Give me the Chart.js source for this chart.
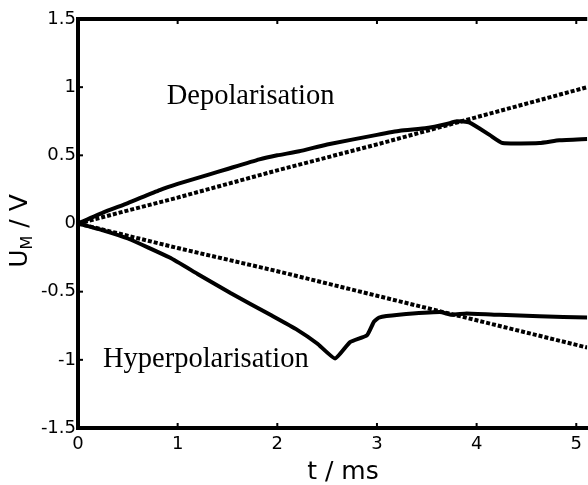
<!DOCTYPE html>
<html>
<head>
<meta charset="utf-8">
<script src="https://cdn.jsdelivr.net/npm/chart.js@4.4.0/dist/chart.umd.min.js"></script>
<style>
  body { margin: 0; background: #fff; }
  #wrap { width: 588px; height: 485px; position: relative; }
</style>
</head>
<body>
<div id="wrap"><canvas id="umChart"></canvas></div>
<script>
// measured membrane voltage, depolarisation branch (t in ms, U in V)
const depolT = [0, 0.25, 0.5, 0.82, 1, 1.32, 1.5, 1.82, 2, 2.22, 2.5, 3, 3.23, 3.5, 3.7, 3.8, 3.93, 4.13, 4.26, 4.63, 4.83, 5.11]
const depolU = [0, 0.08, 0.15, 0.245, 0.29, 0.36, 0.40, 0.47, 0.50, 0.53, 0.58, 0.65, 0.68, 0.70, 0.73, 0.75, 0.74, 0.65, 0.59, 0.59, 0.61, 0.62]
// linear reference (dotted), depolarisation
const depolLinT = [0, 1, 2, 3, 4, 5.11]
const depolLinU = [0, 0.19, 0.39, 0.58, 0.78, 1.0]
// hyperpolarisation branch
const hyperT = [0, 0.25, 0.5, 0.92, 1.2, 1.53, 1.93, 2.2, 2.4, 2.58, 2.73, 2.9, 2.97, 3.02, 3.22, 3.63, 3.75, 3.9, 4.23, 4.63, 5.11]
const hyperU = [0, -0.05, -0.11, -0.25, -0.37, -0.51, -0.67, -0.78, -0.88, -0.99, -0.87, -0.82, -0.72, -0.69, -0.67, -0.65, -0.67, -0.66, -0.67, -0.68, -0.69]
const hyperLinT = [0, 1, 2, 3, 4, 5.11]
const hyperLinU = [0, -0.18, -0.35, -0.53, -0.71, -0.91]

const xTickLabels = ['0', '1', '2', '3', '4', '5']
const yTickLabels = ['-1.5', '-1', '-0.5', '0', '0.5', '1', '1.5']

const labels = [
    {text: 'Depolarisation', t: 0.89, u: 0.88},
    {text: 'Hyperpolarisation', t: 0.25, u: -1.05}
]

function pts(ts, us) {
    return ts.map((t, i) => ({x: t, y: us[i]}))
}

Chart.defaults.font.family = '"DejaVu Sans", sans-serif'
Chart.defaults.color = '#000'

// top frame line, inward tick marks, text labels, axis titles
const framePlugin = {
    id: 'frame',
    afterDraw(chart) {
        const {ctx, chartArea: a, scales: {x, y}} = chart
        ctx.save()
        ctx.strokeStyle = '#000'
        ctx.lineWidth = 4
        ctx.beginPath()
        ctx.moveTo(a.left - 2, a.top)
        ctx.lineTo(a.right, a.top)
        ctx.stroke()

        ctx.lineWidth = 2
        x.ticks.forEach(tk => {
            const px = x.getPixelForValue(tk.value)
            ctx.beginPath()
            ctx.moveTo(px, a.bottom); ctx.lineTo(px, a.bottom - 5)
            ctx.moveTo(px, a.top); ctx.lineTo(px, a.top + 5)
            ctx.stroke()
        })
        y.ticks.forEach(tk => {
            const py = y.getPixelForValue(tk.value)
            ctx.beginPath()
            ctx.moveTo(a.left, py); ctx.lineTo(a.left + 5, py)
            ctx.stroke()
        })

        ctx.fillStyle = '#000'
        ctx.font = '28.5px "Liberation Serif", serif'
        ctx.textBaseline = 'alphabetic'
        ctx.textAlign = 'left'
        labels.forEach(l => {
            ctx.fillText(l.text, x.getPixelForValue(l.t), y.getPixelForValue(l.u))
        })

        // x title
        ctx.font = '25px "DejaVu Sans", sans-serif'
        ctx.textAlign = 'center'
        ctx.fillText('t / ms', 343, 479)

        // y title with subscript
        ctx.translate(27, 231)
        ctx.rotate(-Math.PI / 2)
        ctx.textAlign = 'left'
        const big = '25px "DejaVu Sans", sans-serif'
        const small = '16px "DejaVu Sans", sans-serif'
        ctx.font = big
        const wU = ctx.measureText('U').width
        const wR = ctx.measureText(' / V').width
        ctx.font = small
        const wM = ctx.measureText('M').width
        let cx = -(wU + wM + wR) / 2
        ctx.font = big
        ctx.fillText('U', cx, 0)
        cx += wU
        ctx.font = small
        ctx.fillText('M', cx, 5)
        cx += wM
        ctx.font = big
        ctx.fillText(' / V', cx, 0)
        ctx.restore()
    }
}

const lineStyle = {borderColor: '#000', borderWidth: 4, pointRadius: 0, fill: false, tension: 0.15}
const dotStyle = {borderColor: '#000', borderWidth: 4, borderDash: [4, 2], pointRadius: 0, fill: false, tension: 0}

const ctx = document.getElementById('umChart').getContext('2d')
const chart = new Chart(ctx, {
    type: 'line',
    data: {
        datasets: [
            {label: 'Depolarisation', data: pts(depolT, depolU), ...lineStyle},
            {label: 'Depolarisation linear', data: pts(depolLinT, depolLinU), ...dotStyle},
            {label: 'Hyperpolarisation', data: pts(hyperT, hyperU), ...lineStyle},
            {label: 'Hyperpolarisation linear', data: pts(hyperLinT, hyperLinU), ...dotStyle}
        ]
    },
    options: {
        responsive: true,
        maintainAspectRatio: false,
        animation: false,
        layout: {padding: {top: 19, right: 0, left: 0, bottom: 0}},
        plugins: {legend: {display: false}, tooltip: {enabled: false}},
        scales: {
            x: {
                type: 'linear',
                min: 0,
                max: 5.11,
                afterBuildTicks: s => { s.ticks = xTickLabels.map(v => ({value: Number(v)})) },
                ticks: {
                    font: {size: 18},
                    padding: 6,
                    maxRotation: 0,
                    callback: v => xTickLabels[xTickLabels.indexOf(String(v))]
                },
                grid: {display: true, drawOnChartArea: false, drawTicks: false},
                border: {display: true, width: 4, color: '#000'},
                afterFit: s => { s.height = 57 }
            },
            y: {
                min: -1.5,
                max: 1.5,
                afterBuildTicks: s => { s.ticks = yTickLabels.map(v => ({value: Number(v)})) },
                ticks: {
                    font: {size: 18},
                    padding: 2,
                    callback: v => yTickLabels[yTickLabels.indexOf(String(v))]
                },
                grid: {display: true, drawOnChartArea: false, drawTicks: false},
                border: {display: true, width: 4, color: '#000'},
                afterFit: s => { s.width = 78 }
            }
        }
    },
    plugins: [framePlugin]
})
</script>
</body>
</html>
